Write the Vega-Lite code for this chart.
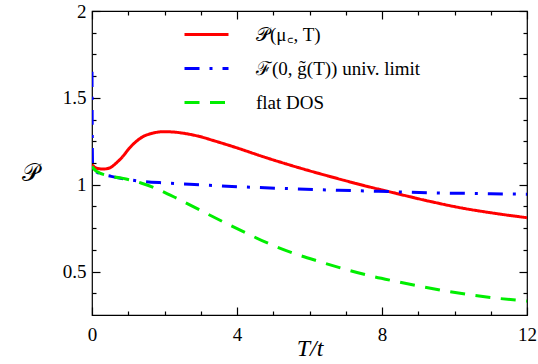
{
  "$schema": "https://vega.github.io/schema/vega-lite/v6.json",
  "width": 435,
  "height": 304,
  "autosize": "none",
  "padding": {"left": 92, "top": 11, "right": 11, "bottom": 49},
  "background": "white",
  "config": {
    "view": {"stroke": "black", "strokeWidth": 1.2},
    "font": "Liberation Serif",
    "axis": {"domain": false, "grid": false, "tickColor": "black", "labelColor": "black", "labelFont": "Liberation Serif", "labelFontSize": 19, "tickWidth": 1.2, "format": "~g"},
    "legend": {"labelFont": "Liberation Serif"}
  },
  "datasets": {
    "curves": [
      {"s": "P", "T": 0.0, "v": 1.115},
      {"s": "P", "T": 0.115, "v": 1.096},
      {"s": "P", "T": 0.3, "v": 1.09},
      {"s": "P", "T": 0.48, "v": 1.096},
      {"s": "P", "T": 0.67, "v": 1.125},
      {"s": "P", "T": 0.85, "v": 1.163},
      {"s": "P", "T": 1.03, "v": 1.21},
      {"s": "P", "T": 1.22, "v": 1.249},
      {"s": "P", "T": 1.4, "v": 1.276},
      {"s": "P", "T": 1.68, "v": 1.297},
      {"s": "P", "T": 1.95, "v": 1.305},
      {"s": "P", "T": 2.2, "v": 1.304},
      {"s": "P", "T": 2.5, "v": 1.297},
      {"s": "P", "T": 2.96, "v": 1.278},
      {"s": "P", "T": 3.4, "v": 1.251},
      {"s": "P", "T": 3.88, "v": 1.22},
      {"s": "P", "T": 4.8, "v": 1.156},
      {"s": "P", "T": 5.72, "v": 1.097},
      {"s": "P", "T": 6.64, "v": 1.043},
      {"s": "P", "T": 7.47, "v": 0.997},
      {"s": "P", "T": 8.39, "v": 0.95},
      {"s": "P", "T": 9.3, "v": 0.905},
      {"s": "P", "T": 10.2, "v": 0.866},
      {"s": "P", "T": 11.15, "v": 0.834},
      {"s": "P", "T": 12.0, "v": 0.81},
      {"s": "F", "T": 0.0, "v": 1.65},
      {"s": "F", "T": 0.004, "v": 1.4},
      {"s": "F", "T": 0.008, "v": 1.22},
      {"s": "F", "T": 0.015, "v": 1.12},
      {"s": "F", "T": 0.03, "v": 1.105},
      {"s": "F", "T": 0.15, "v": 1.07},
      {"s": "F", "T": 0.53, "v": 1.048},
      {"s": "F", "T": 1.22, "v": 1.023},
      {"s": "F", "T": 2.05, "v": 1.01},
      {"s": "F", "T": 2.69, "v": 1.003},
      {"s": "F", "T": 4.1, "v": 0.988},
      {"s": "F", "T": 5.5, "v": 0.977},
      {"s": "F", "T": 6.8, "v": 0.968},
      {"s": "F", "T": 7.9, "v": 0.962},
      {"s": "F", "T": 9.5, "v": 0.953},
      {"s": "F", "T": 11.0, "v": 0.948},
      {"s": "F", "T": 12.0, "v": 0.945},
      {"s": "D", "T": 0.0, "v": 1.105},
      {"s": "D", "T": 0.12, "v": 1.077},
      {"s": "D", "T": 0.54, "v": 1.048},
      {"s": "D", "T": 0.94, "v": 1.033},
      {"s": "D", "T": 1.35, "v": 1.01},
      {"s": "D", "T": 1.77, "v": 0.978},
      {"s": "D", "T": 2.41, "v": 0.914},
      {"s": "D", "T": 2.96, "v": 0.856},
      {"s": "D", "T": 3.61, "v": 0.787},
      {"s": "D", "T": 4.25, "v": 0.722},
      {"s": "D", "T": 4.89, "v": 0.66},
      {"s": "D", "T": 5.58, "v": 0.604},
      {"s": "D", "T": 6.27, "v": 0.558},
      {"s": "D", "T": 6.96, "v": 0.515},
      {"s": "D", "T": 7.65, "v": 0.477},
      {"s": "D", "T": 8.3, "v": 0.447},
      {"s": "D", "T": 9.03, "v": 0.416},
      {"s": "D", "T": 9.7, "v": 0.39},
      {"s": "D", "T": 10.4, "v": 0.367},
      {"s": "D", "T": 11.2, "v": 0.346},
      {"s": "D", "T": 12.0, "v": 0.33}
    ]
  },
  "data": {"name": "curves"},
  "resolve": {"axis": {"x": "independent", "y": "independent"}},
  "layer": [
    {
      "mark": {"type": "line", "strokeWidth": 3, "interpolate": "monotone", "clip": true},
      "encoding": {
        "x": {"field": "T", "type": "quantitative", "scale": {"domain": [0, 12], "nice": false, "zero": false},
              "axis": {"orient": "bottom", "values": [0, 4, 8, 12], "tickSize": -8, "labelPadding": 18, "title": "T/t", "titleFont": "Liberation Serif", "titleFontStyle": "italic", "titleFontWeight": "normal", "titleFontSize": 24, "titlePadding": -8, "labelFlush": false}},
        "y": {"field": "v", "type": "quantitative", "scale": {"domain": [0.25, 2], "nice": false, "zero": false},
              "axis": {"orient": "left", "values": [0.5, 1, 1.5, 2], "tickSize": -8, "labelPadding": 14, "title": "𝒫", "titleAngle": 0, "titleFont": "Liberation Serif", "titleFontWeight": "normal", "titleFontSize": 24, "titleX": -62, "titleY": 174, "labelFlush": false}},
        "color": {"field": "s", "type": "nominal",
                  "scale": {"domain": ["P", "F", "D"], "range": ["#ff0000", "#0000ff", "#00ee00"]},
                  "legend": {"orient": "none", "legendX": 91, "legendY": 0, "title": null, "symbolType": "stroke", "symbolSize": 1936, "symbolStrokeWidth": 3, "labelFont": "Liberation Serif", "labelFontSize": 19, "labelColor": "black", "labelOffset": 26, "labelLimit": 400, "rowPadding": -5, "padding": 0,
                             "labelExpr": "datum.value == 'P' ? '𝒫(μ꜀, T)' : datum.value == 'F' ? 'ℱ(0, g̃(T)) univ. limit' : 'flat DOS'"}},
        "strokeDash": {"field": "s", "type": "nominal",
                       "scale": {"domain": ["P", "F", "D"], "range": [[1, 0], [15, 10, 3, 10], [15, 10.5]]},
                       "legend": null}
      }
    },
    {
      "mark": {"type": "point", "opacity": 0},
      "encoding": {
        "x": {"field": "T", "type": "quantitative", "axis": {"orient": "bottom", "values": [1, 2, 3, 5, 6, 7, 9, 10, 11], "tickSize": -4, "labels": false, "title": null}},
        "y": {"field": "v", "type": "quantitative", "axis": {"orient": "left", "values": [0.375, 0.625, 0.75, 0.875, 1.125, 1.25, 1.375, 1.625, 1.75, 1.875], "tickSize": -4, "labels": false, "title": null}}
      }
    },
    {
      "mark": {"type": "point", "opacity": 0},
      "encoding": {
        "x": {"field": "T", "type": "quantitative", "axis": {"orient": "top", "values": [0, 4, 8, 12], "tickSize": -8, "labels": false, "title": null}},
        "y": {"field": "v", "type": "quantitative", "axis": {"orient": "right", "values": [0.5, 1, 1.5, 2], "tickSize": -8, "labels": false, "title": null}}
      }
    },
    {
      "mark": {"type": "point", "opacity": 0},
      "encoding": {
        "x": {"field": "T", "type": "quantitative", "axis": {"orient": "top", "values": [1, 2, 3, 5, 6, 7, 9, 10, 11], "tickSize": -4, "labels": false, "title": null}},
        "y": {"field": "v", "type": "quantitative", "axis": {"orient": "right", "values": [0.375, 0.625, 0.75, 0.875, 1.125, 1.25, 1.375, 1.625, 1.75, 1.875], "tickSize": -4, "labels": false, "title": null}}
      }
    }
  ]
}
